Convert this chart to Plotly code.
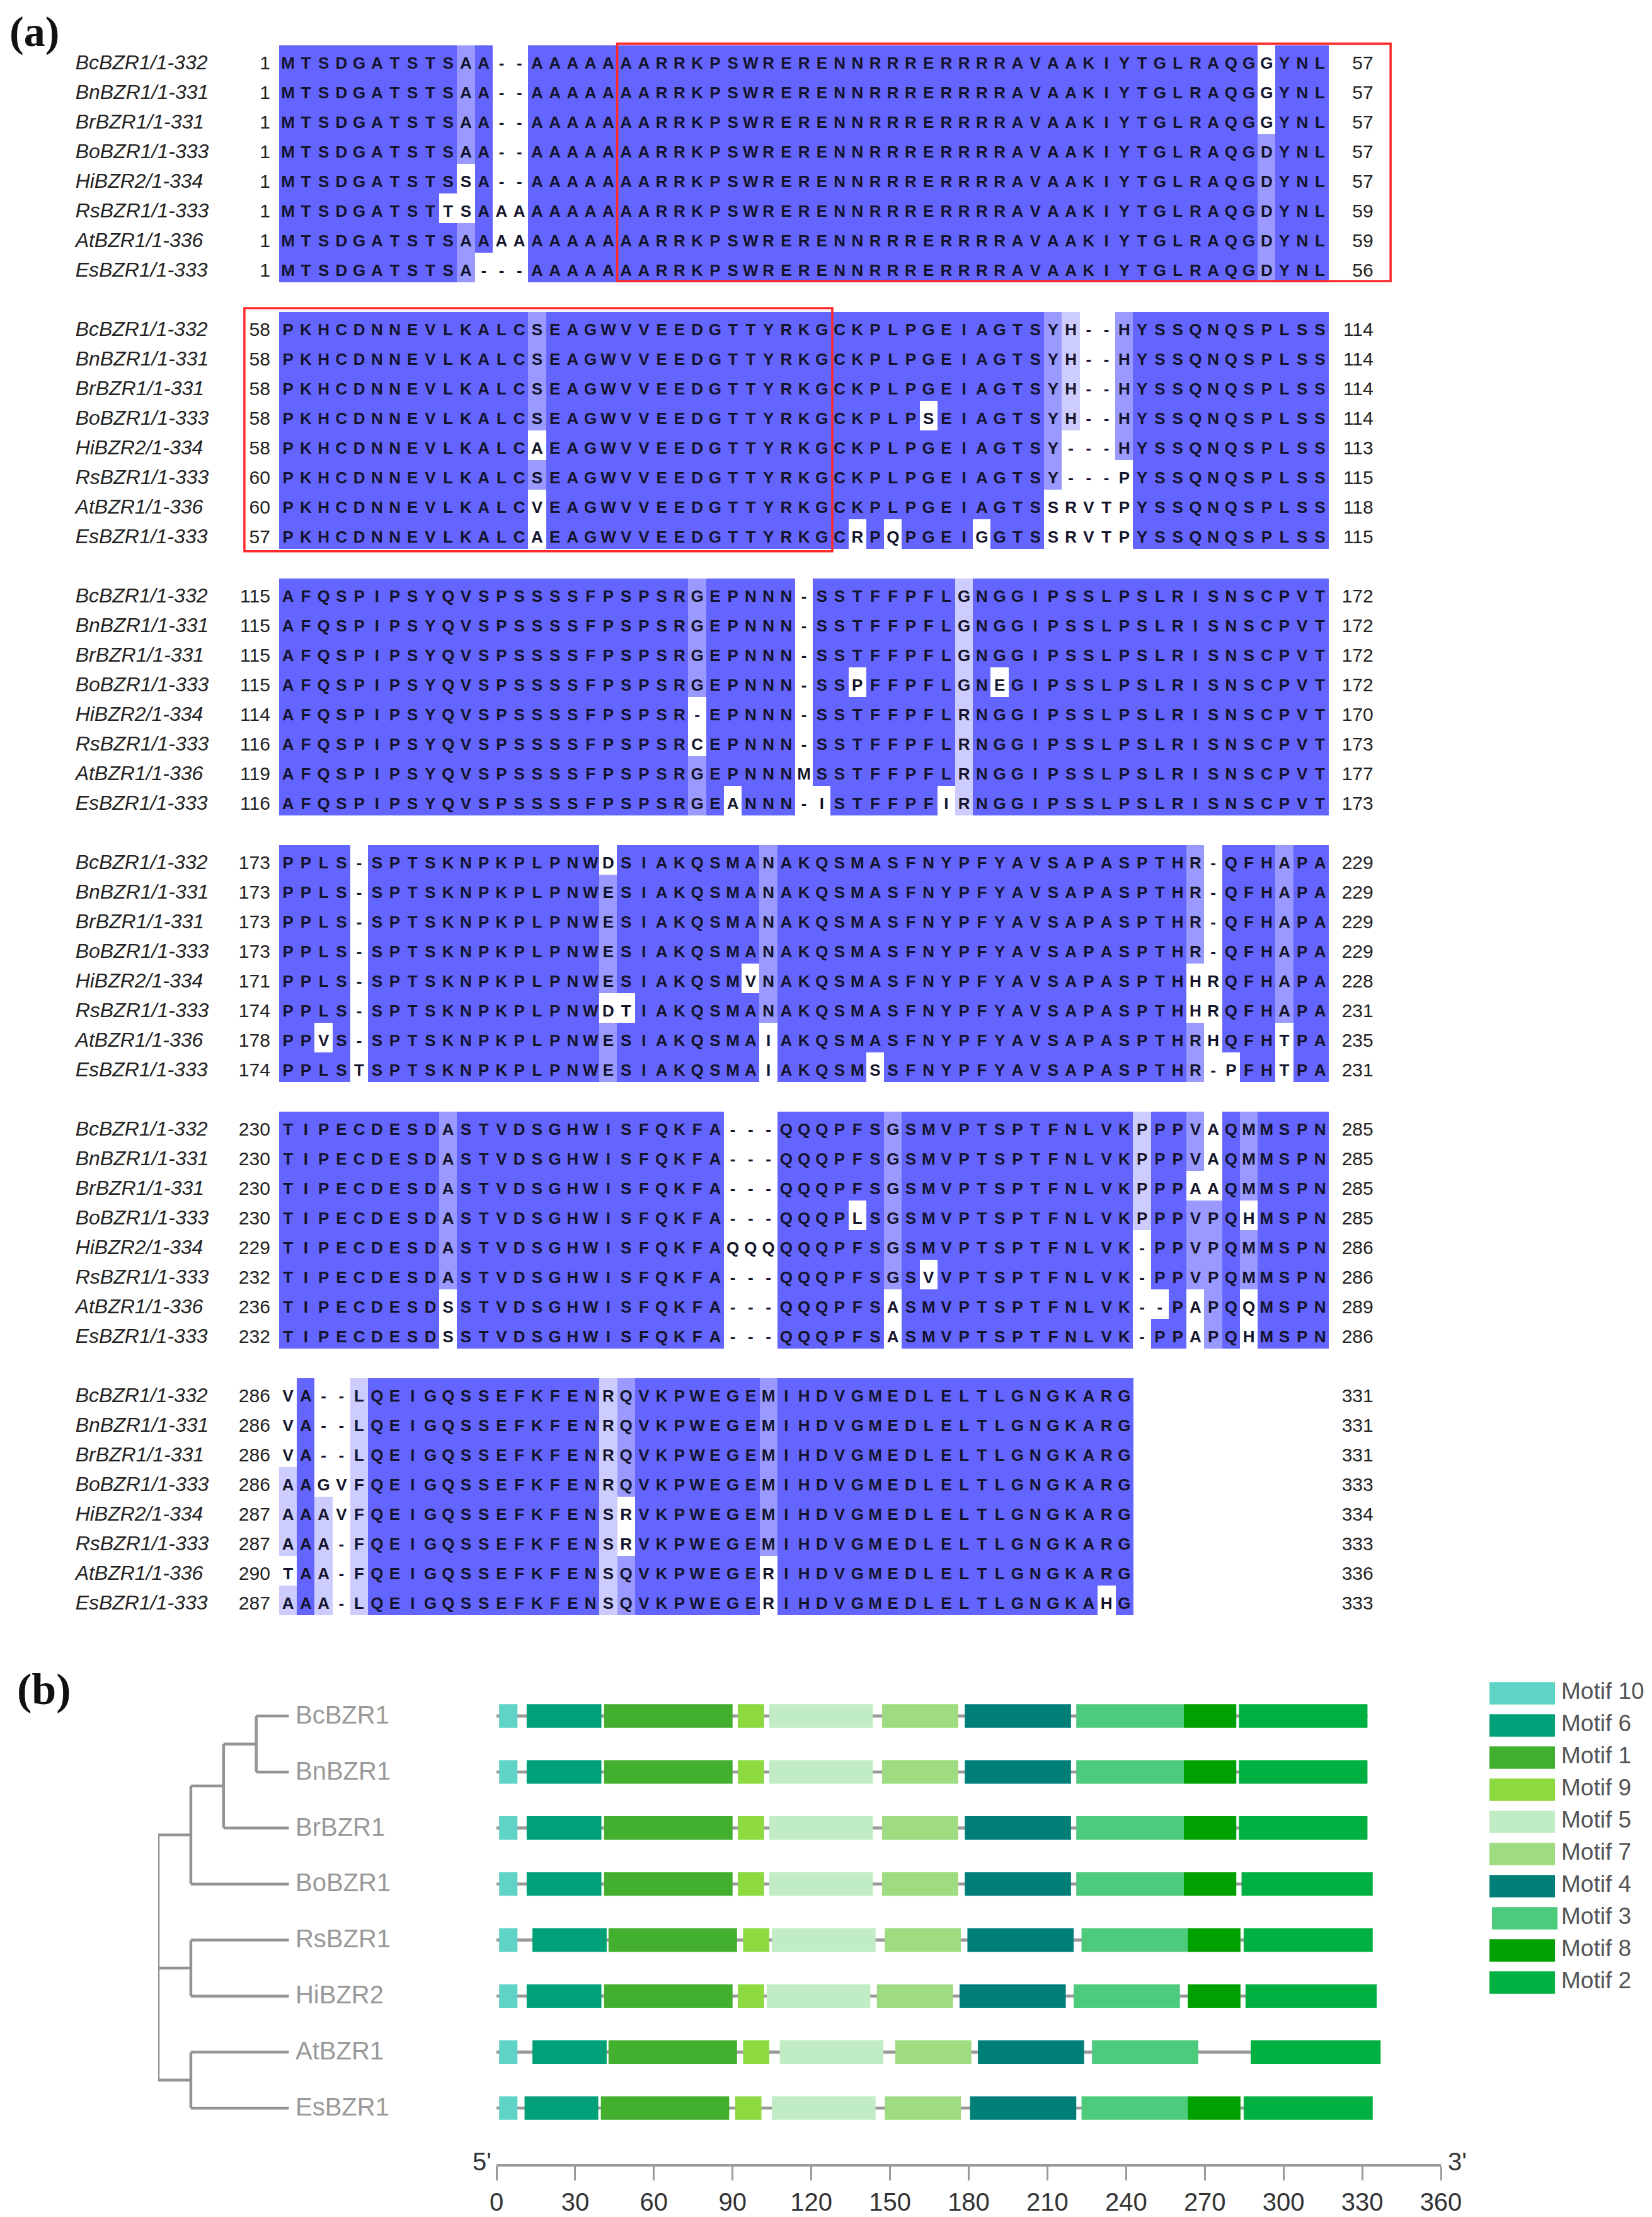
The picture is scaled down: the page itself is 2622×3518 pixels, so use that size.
import plotly.graph_objects as go
from collections import Counter

W, H = 2622, 3518

seq_names = ["BcBZR1/1-332", "BnBZR1/1-331", "BrBZR1/1-331", "BoBZR1/1-333",
             "HiBZR2/1-334", "RsBZR1/1-333", "AtBZR1/1-336", "EsBZR1/1-333"]

block1 = ["MTSDGATSTSAA--AAAAAAARRKPSWRERENNRRRERRRRAVAAKIYTGLRAQGGYNL",
          "MTSDGATSTSAA--AAAAAAARRKPSWRERENNRRRERRRRAVAAKIYTGLRAQGGYNL",
          "MTSDGATSTSAA--AAAAAAARRKPSWRERENNRRRERRRRAVAAKIYTGLRAQGGYNL",
          "MTSDGATSTSAA--AAAAAAARRKPSWRERENNRRRERRRRAVAAKIYTGLRAQGDYNL",
          "MTSDGATSTSSA--AAAAAAARRKPSWRERENNRRRERRRRAVAAKIYTGLRAQGDYNL",
          "MTSDGATSTTSAAAAAAAAAARRKPSWRERENNRRRERRRRAVAAKIYTGLRAQGDYNL",
          "MTSDGATSTSAAAAAAAAAAARRKPSWRERENNRRRERRRRAVAAKIYTGLRAQGDYNL",
          "MTSDGATSTSA---AAAAAAARRKPSWRERENNRRRERRRRAVAAKIYTGLRAQGDYNL"]
block2 = ["PKHCDNNEVLKALCSEAGWVVEEDGTTYRKGCKPLPGEIAGTSYH--HYSSQNQSPLSS",
          "PKHCDNNEVLKALCSEAGWVVEEDGTTYRKGCKPLPGEIAGTSYH--HYSSQNQSPLSS",
          "PKHCDNNEVLKALCSEAGWVVEEDGTTYRKGCKPLPGEIAGTSYH--HYSSQNQSPLSS",
          "PKHCDNNEVLKALCSEAGWVVEEDGTTYRKGCKPLPSEIAGTSYH--HYSSQNQSPLSS",
          "PKHCDNNEVLKALCAEAGWVVEEDGTTYRKGCKPLPGEIAGTSY---HYSSQNQSPLSS",
          "PKHCDNNEVLKALCSEAGWVVEEDGTTYRKGCKPLPGEIAGTSY---PYSSQNQSPLSS",
          "PKHCDNNEVLKALCVEAGWVVEEDGTTYRKGCKPLPGEIAGTSSRVTPYSSQNQSPLSS",
          "PKHCDNNEVLKALCAEAGWVVEEDGTTYRKGCRPQPGEIGGTSSRVTPYSSQNQSPLSS"]
block3 = ["AFQSPIPSYQVSPSSSSFPSPSRGEPNNN-SSTFFPFLGNGGIPSSLPSLRISNSCPVT",
          "AFQSPIPSYQVSPSSSSFPSPSRGEPNNN-SSTFFPFLGNGGIPSSLPSLRISNSCPVT",
          "AFQSPIPSYQVSPSSSSFPSPSRGEPNNN-SSTFFPFLGNGGIPSSLPSLRISNSCPVT",
          "AFQSPIPSYQVSPSSSSFPSPSRGEPNNN-SSPFFPFLGNEGIPSSLPSLRISNSCPVT",
          "AFQSPIPSYQVSPSSSSFPSPSR-EPNNN-SSTFFPFLRNGGIPSSLPSLRISNSCPVT",
          "AFQSPIPSYQVSPSSSSFPSPSRCEPNNN-SSTFFPFLRNGGIPSSLPSLRISNSCPVT",
          "AFQSPIPSYQVSPSSSSFPSPSRGEPNNNMSSTFFPFLRNGGIPSSLPSLRISNSCPVT",
          "AFQSPIPSYQVSPSSSSFPSPSRGEANNN-ISTFFPFIRNGGIPSSLPSLRISNSCPVT"]
block4 = ["PPLS-SPTSKNPKPLPNWDSIAKQSMANAKQSMASFNYPFYAVSAPASPTHR-QFHAPA",
          "PPLS-SPTSKNPKPLPNWESIAKQSMANAKQSMASFNYPFYAVSAPASPTHR-QFHAPA",
          "PPLS-SPTSKNPKPLPNWESIAKQSMANAKQSMASFNYPFYAVSAPASPTHR-QFHAPA",
          "PPLS-SPTSKNPKPLPNWESIAKQSMANAKQSMASFNYPFYAVSAPASPTHR-QFHAPA",
          "PPLS-SPTSKNPKPLPNWESIAKQSMVNAKQSMASFNYPFYAVSAPASPTHHRQFHAPA",
          "PPLS-SPTSKNPKPLPNWDTIAKQSMANAKQSMASFNYPFYAVSAPASPTHHRQFHAPA",
          "PPVS-SPTSKNPKPLPNWESIAKQSMAIAKQSMASFNYPFYAVSAPASPTHRHQFHTPA",
          "PPLSTSPTSKNPKPLPNWESIAKQSMAIAKQSMSSFNYPFYAVSAPASPTHR-PFHTPA"]
block5 = ["TIPECDESDASTVDSGHWISFQKFA---QQQPFSGSMVPTSPTFNLVKPPPVAQMMSPN",
          "TIPECDESDASTVDSGHWISFQKFA---QQQPFSGSMVPTSPTFNLVKPPPVAQMMSPN",
          "TIPECDESDASTVDSGHWISFQKFA---QQQPFSGSMVPTSPTFNLVKPPPAAQMMSPN",
          "TIPECDESDASTVDSGHWISFQKFA---QQQPLSGSMVPTSPTFNLVKPPPVPQHMSPN",
          "TIPECDESDASTVDSGHWISFQKFAQQQQQQPFSGSMVPTSPTFNLVK-PPVPQMMSPN",
          "TIPECDESDASTVDSGHWISFQKFA---QQQPFSGSVVPTSPTFNLVK-PPVPQMMSPN",
          "TIPECDESDSSTVDSGHWISFQKFA---QQQPFSASMVPTSPTFNLVK--PAPQQMSPN",
          "TIPECDESDSSTVDSGHWISFQKFA---QQQPFSASMVPTSPTFNLVK-PPAPQHMSPN"]
block6 = ["VA--LQEIGQSSEFKFENRQVKPWEGEMIHDVGMEDLELTLGNGKARG",
          "VA--LQEIGQSSEFKFENRQVKPWEGEMIHDVGMEDLELTLGNGKARG",
          "VA--LQEIGQSSEFKFENRQVKPWEGEMIHDVGMEDLELTLGNGKARG",
          "AAGVFQEIGQSSEFKFENRQVKPWEGEMIHDVGMEDLELTLGNGKARG",
          "AAAVFQEIGQSSEFKFENSRVKPWEGEMIHDVGMEDLELTLGNGKARG",
          "AAA-FQEIGQSSEFKFENSRVKPWEGEMIHDVGMEDLELTLGNGKARG",
          "TAA-FQEIGQSSEFKFENSQVKPWEGERIHDVGMEDLELTLGNGKARG",
          "AAA-LQEIGQSSEFKFENSQVKPWEGERIHDVGMEDLELTLGNGKAHG"]
blocks = [block1, block2, block3, block4, block5, block6]

start_nums = [[1, 1, 1, 1, 1, 1, 1, 1],
              [58, 58, 58, 58, 58, 60, 60, 57],
              [115, 115, 115, 115, 114, 116, 119, 116],
              [173, 173, 173, 173, 171, 174, 178, 174],
              [230, 230, 230, 230, 229, 232, 236, 232],
              [286, 286, 286, 286, 287, 287, 290, 287]]
end_nums = [[57, 57, 57, 57, 57, 59, 59, 56],
            [114, 114, 114, 114, 113, 115, 118, 115],
            [172, 172, 172, 172, 170, 173, 177, 173],
            [229, 229, 229, 229, 228, 231, 235, 231],
            [285, 285, 285, 285, 286, 286, 289, 286],
            [331, 331, 331, 333, 334, 333, 336, 333]]

genes = ["BcBZR1", "BnBZR1", "BrBZR1", "BoBZR1", "RsBZR1", "HiBZR2", "AtBZR1", "EsBZR1"]
gene_len = [332, 331, 331, 333, 333, 334, 336, 333]
tree = [[[[0, 1], 2], 3], [4, 5], [6, 7]]

motif_names = ["Motif 10", "Motif 6", "Motif 1", "Motif 9", "Motif 5",
               "Motif 7", "Motif 4", "Motif 3", "Motif 8", "Motif 2"]
motif_colors = ["#5fd3c5", "#00a078", "#42b02e", "#8cd940", "#c0edc4",
                "#9fdb80", "#007f79", "#4ccb7d", "#00a000", "#00b040"]
motif_start = [[1, 1, 1, 1, 1, 1, 1, 1],
               [11.5, 11.5, 11.5, 11.5, 13.7, 11.5, 13.7, 10.7],
               [41, 41, 41, 41, 42.7, 41, 42.7, 39.8],
               [92, 92, 92, 92, 94, 92, 94, 91],
               [104, 104, 104, 104, 105, 103, 108, 105],
               [147, 147, 147, 147, 148, 145, 152, 148],
               [178.5, 178.5, 178.5, 178.5, 179.5, 176.5, 183.5, 180.5],
               [221, 221, 221, 221, 223, 220, 227, 223],
               [262, 262, 262, 262, 263.5, 263.5, None, 263.5],
               [283, 283, 283, 284, 284.8, 285.5, 287.5, 284.8]]
motif_end = [[8, 8, 8, 8, 8, 8, 8, 8],
             [40, 40, 40, 40, 42, 40, 42, 38.8],
             [90, 90, 90, 90, 91.7, 90, 91.7, 88.7],
             [102, 102, 102, 102, 104, 102, 104, 101],
             [143.5, 143.5, 143.5, 143.5, 144.5, 142.5, 147.5, 144.5],
             [176, 176, 176, 176, 177, 174, 181, 177],
             [219, 219, 219, 219, 220, 217, 224, 221],
             [262, 262, 262, 262, 263.5, 260.5, 267.5, 263.5],
             [282, 282, 282, 282, 283.6, 283.6, None, 283.6],
             [332, 332, 332, 334, 334, 335.5, 337, 334]]
ruler_ticks = [0, 30, 60, 90, 120, 150, 180, 210, 240, 270, 300, 330, 360]

SERIF = "Liberation Serif"
SANS = "Liberation Sans"


def px_x(p):
    return p / W


def px_y(p):
    return 1 - p / H


# jalview style percent identity shading
def shade(rows):
    z = []
    for row in rows:
        z.append([None] * len(row))
    for c in range(len(rows[0])):
        col = [r[c] for r in rows]
        counts = Counter(a for a in col if a != "-")
        if not counts:
            continue
        top = max(counts.values())
        pct = 100 * top / len(rows)
        level = 3 if pct > 80 else 2 if pct > 60 else 1 if pct > 40 else None
        for i, a in enumerate(col):
            if a != "-" and counts[a] == top:
                z[i][c] = level
    return z


fig = go.Figure()

# panel a, text sits a little under the row centre in the original
TEXT_DROP = 0.14
letters_x, letters_y, letters_t = [], [], []
left_y, left_t = [], []
name_y, name_t = [], []
right_y, right_t = [], []
for b, rows in enumerate(blocks):
    ys = [9 * b + r for r in range(8)]
    fig.add_trace(go.Heatmap(z=shade(rows), x=list(range(len(rows[0]))), y=ys,
                             zmin=1, zmax=3, showscale=False, hoverinfo="skip",
                             colorscale=[[0, "#ccccff"], [0.5, "#9999ff"], [1, "#6464ff"]],
                             xaxis="x", yaxis="y"))
    for r, row in enumerate(rows):
        for c, a in enumerate(row):
            letters_x.append(c)
            letters_y.append(ys[r] + TEXT_DROP)
            letters_t.append(a)
        name_y.append(ys[r] + TEXT_DROP)
        name_t.append(seq_names[r])
        right_y.append(ys[r] + TEXT_DROP)
        right_t.append(str(end_nums[b][r]))
        left_y.append(ys[r] + TEXT_DROP)
        left_t.append(str(start_nums[b][r]))

fig.add_trace(go.Scatter(x=letters_x, y=letters_y, text=letters_t, mode="text",
                         textfont=dict(family=SANS, size=26, color="#14142c", weight="bold"),
                         hoverinfo="skip", xaxis="x", yaxis="y"))
fig.add_trace(go.Scatter(x=[-11.95] * len(name_y), y=name_y, text=name_t, mode="text",
                         textposition="middle right",
                         textfont=dict(family=SANS, size=32, color="#222222", style="italic"),
                         hoverinfo="skip", xaxis="x", yaxis="y"))
fig.add_trace(go.Scatter(x=[-1] * len(left_y), y=left_y, text=left_t, mode="text",
                         textposition="middle left",
                         textfont=dict(family=SANS, size=30, color="#222222"),
                         hoverinfo="skip", xaxis="x", yaxis="y"))
fig.add_trace(go.Scatter(x=[61] * len(right_y), y=right_y, text=right_t, mode="text",
                         textposition="middle left",
                         textfont=dict(family=SANS, size=30, color="#222222"),
                         hoverinfo="skip", xaxis="x", yaxis="y"))

# panel b, backbone first so the motifs sit on top
rows_b = list(range(len(genes)))
fig.add_trace(go.Bar(y=rows_b, x=gene_len, base=[0] * len(genes), width=0.055, orientation="h",
                     marker=dict(color="#999999", line_width=0), hoverinfo="skip",
                     xaxis="x2", yaxis="y2"))
for name, color, st, en in zip(motif_names, motif_colors, motif_start, motif_end):
    widths = [None if s is None else e - s for s, e in zip(st, en)]
    fig.add_trace(go.Bar(y=rows_b, x=widths, base=st, width=0.42, orientation="h", name=name,
                         marker=dict(color=color, line_width=0), hoverinfo="skip",
                         xaxis="x2", yaxis="y2"))


# tree, depth goes up by one per nesting level and tips end at 4
def walk(node, depth, xs, ys):
    if isinstance(node, int):
        return node
    kids = [walk(k, depth + 1, xs, ys) for k in node]
    y = sum(kids) / len(kids)
    xs += [depth, depth, None]
    ys += [kids[0], kids[-1], None]
    for k, kid_y in zip(node, kids):
        end = 4 if isinstance(k, int) else depth + 1
        xs += [depth, end, None]
        ys += [kid_y, kid_y, None]
    return y


tree_x, tree_y = [], []
walk(tree, 0, tree_x, tree_y)
fig.add_trace(go.Scatter(x=tree_x, y=tree_y, mode="lines", line=dict(color="#939393", width=4.5),
                         hoverinfo="skip", xaxis="x3", yaxis="y2"))
fig.add_trace(go.Scatter(x=[4.2] * len(genes), y=[r + 0.02 for r in rows_b], text=genes, mode="text",
                         textposition="middle right",
                         textfont=dict(family=SANS, size=40, color="#999999"),
                         hoverinfo="skip", xaxis="x3", yaxis="y2"))

# motif legend, the Motif 3 swatch is a bit off to the right in the original
legend_rows = list(range(len(motif_names)))
legend_base = [6 if n == "Motif 3" else 2 for n in motif_names]
fig.add_trace(go.Bar(y=legend_rows, x=[104] * len(motif_names), base=legend_base,
                     width=0.7, orientation="h",
                     marker=dict(color=motif_colors, line_width=0), hoverinfo="skip",
                     xaxis="x4", yaxis="y4"))
fig.add_trace(go.Scatter(x=[116] * len(motif_names), y=legend_rows, text=motif_names, mode="text",
                         textposition="middle right",
                         textfont=dict(family=SANS, size=37, color="#555555"),
                         hoverinfo="skip", xaxis="x4", yaxis="y4"))

hidden = dict(visible=False, fixedrange=True, automargin=False)
fig.update_layout(
    template="none",
    width=W, height=H, margin=dict(l=0, r=0, t=0, b=0, autoexpand=False),
    paper_bgcolor="white", plot_bgcolor="rgba(0,0,0,0)", showlegend=False, barmode="overlay",
    xaxis=dict(domain=[0, 1], range=[-457.1 / 28.24, (W - 457.1) / 28.24], anchor="y", **hidden),
    yaxis=dict(domain=[px_y(2620), px_y(20)], range=[(2620 - 95.5) / 47, (20 - 95.5) / 47],
               anchor="x", **hidden),
    xaxis2=dict(domain=[px_x(788), px_x(2287)], range=[0, 360], anchor="y2", side="bottom",
                tickmode="array", tickvals=ruler_ticks, ticks="outside", ticklen=22, tickwidth=3,
                tickcolor="#999999", showline=True, linecolor="#999999", linewidth=4,
                automargin=False, showgrid=False, zeroline=False,
                tickfont=dict(family=SANS, size=40, color="#333333")),
    yaxis2=dict(domain=[px_y(3434), px_y(2660)], range=[8.0, -0.709], anchor="x2", **hidden),
    xaxis3=dict(domain=[px_x(251), px_x(788)], range=[0, 537 / 51.9], anchor="y2", **hidden),
    xaxis4=dict(domain=[px_x(2362), px_x(2622)], range=[0, 260], anchor="y4", **hidden),
    yaxis4=dict(domain=[px_y(3190), px_y(2650)], range=[(3190 - 2687) / 51, (2650 - 2687) / 51],
                anchor="x4", **hidden),
    # red boxes around the conserved region, drawn on the alignment axes
    shapes=[dict(type="rect", xref="x", yref="y", x0=18.5, x1=61.97, y0=-0.56, y1=7.46,
                 line=dict(color="#ff2a2a", width=3.5)),
            dict(type="rect", xref="x", yref="y", x0=-2.45, x1=30.59, y0=8.37, y1=16.58,
                 line=dict(color="#ff2a2a", width=3.5))],
    annotations=[
        dict(text="<b>(a)</b>", xref="paper", yref="paper", x=px_x(13), y=px_y(50),
             xanchor="left", yanchor="middle", showarrow=False,
             font=dict(family=SERIF, size=68, color="#111111")),
        dict(text="<b>(b)</b>", xref="paper", yref="paper", x=px_x(25), y=px_y(2680),
             xanchor="left", yanchor="middle", showarrow=False,
             font=dict(family=SERIF, size=70, color="#111111")),
        dict(text="5'", xref="paper", yref="paper", x=px_x(782), y=px_y(3430),
             xanchor="right", yanchor="middle", showarrow=False,
             font=dict(family=SANS, size=40, color="#333333")),
        dict(text="3'", xref="paper", yref="paper", x=px_x(2296), y=px_y(3430),
             xanchor="left", yanchor="middle", showarrow=False,
             font=dict(family=SANS, size=40, color="#333333")),
    ],
)

fig.write_html("out.html", config={"displayModeBar": False},
               post_script="document.body.style.margin='0';")
